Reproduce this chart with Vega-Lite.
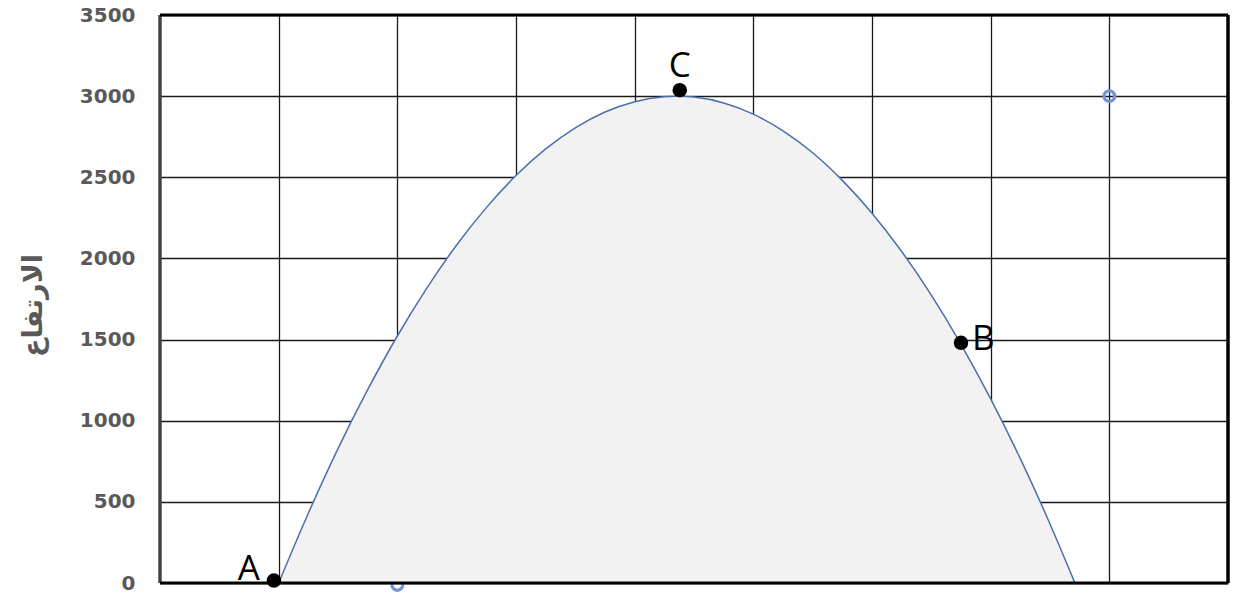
{
  "$schema": "https://vega.github.io/schema/vega-lite/v6.json",
  "width": 1068,
  "height": 568,
  "autosize": {"type": "none"},
  "padding": {"left": 160, "top": 15, "right": 6, "bottom": 12},
  "background": "white",
  "config": {"view": {"stroke": null}},
  "datasets": {
    "curve": [
      {"x": 1.0, "y": 0}, {"x": 1.25, "y": 430}, {"x": 1.5, "y": 828}, {"x": 1.75, "y": 1191},
      {"x": 2.0, "y": 1522}, {"x": 2.25, "y": 1819}, {"x": 2.5, "y": 2083}, {"x": 2.75, "y": 2313},
      {"x": 3.0, "y": 2511}, {"x": 3.25, "y": 2675}, {"x": 3.5, "y": 2805}, {"x": 3.75, "y": 2902},
      {"x": 4.0, "y": 2966}, {"x": 4.25, "y": 2997}, {"x": 4.355, "y": 3000}, {"x": 4.5, "y": 2994},
      {"x": 4.75, "y": 2958}, {"x": 5.0, "y": 2889}, {"x": 5.25, "y": 2786}, {"x": 5.5, "y": 2651},
      {"x": 5.75, "y": 2481}, {"x": 6.0, "y": 2279}, {"x": 6.25, "y": 2043}, {"x": 6.5, "y": 1774},
      {"x": 6.75, "y": 1471}, {"x": 7.0, "y": 1135}, {"x": 7.25, "y": 766}, {"x": 7.5, "y": 364},
      {"x": 7.71, "y": 0}
    ],
    "points": [
      {"x": 0.96, "y": 15, "label": "A"},
      {"x": 4.38, "y": 3037, "label": "C"},
      {"x": 6.75, "y": 1480, "label": "B"}
    ],
    "hollow": [
      {"x": 8.0, "y": 3000},
      {"x": 2.0, "y": -12}
    ],
    "one": [{}]
  },
  "layer": [
    {
      "data": {"name": "hollow"},
      "mark": {"type": "point", "shape": "circle", "filled": false, "stroke": "#7393d4", "strokeWidth": 3.2, "size": 115, "opacity": 1},
      "encoding": {"x": {"field": "x", "type": "quantitative"}, "y": {"field": "y", "type": "quantitative"}}
    },
    {
      "data": {"name": "curve"},
      "mark": {"type": "area", "color": "#f2f2f2", "fillOpacity": 1, "interpolate": "monotone",
        "line": {"color": "#4a6fae", "strokeWidth": 1.5}},
      "encoding": {
        "x": {"field": "x", "type": "quantitative", "scale": {"domain": [0, 9], "nice": false, "zero": false},
          "axis": {"values": [1, 2, 3, 4, 5, 6, 7, 8], "grid": true, "gridColor": "#1a1a1a", "gridWidth": 1.3, "labels": false, "ticks": false, "domain": false, "title": null}},
        "y": {"field": "y", "type": "quantitative", "scale": {"domain": [0, 3500], "nice": false},
          "axis": {"values": [0, 500, 1000, 1500, 2000, 2500, 3000, 3500], "format": "d", "grid": true, "gridColor": "#1a1a1a", "gridWidth": 1.3, "ticks": false, "domain": false,
            "labelFont": "DejaVu Sans", "labelFontWeight": "bold", "labelFontSize": 20, "labelColor": "#595959", "labelPadding": 25,
            "title": "الارتفاع", "titleFont": "DejaVu Sans", "titleFontSize": 27, "titleFontWeight": "bold", "titleColor": "#595959",
            "titleAngle": 270, "titleX": -127, "titleY": 290, "titleAlign": "center", "titleBaseline": "middle"}}
      }
    },
    {
      "data": {"name": "one"},
      "mark": {"type": "rule", "color": "#444444", "strokeWidth": 3.5},
      "encoding": {"x": {"datum": 0}}
    },
    {
      "data": {"name": "one"},
      "mark": {"type": "rule", "color": "#000000", "strokeWidth": 3.5},
      "encoding": {"x": {"datum": 9}}
    },
    {
      "data": {"name": "one"},
      "mark": {"type": "rule", "color": "#000000", "strokeWidth": 3},
      "encoding": {"y": {"datum": 3500}}
    },
    {
      "data": {"name": "one"},
      "mark": {"type": "rule", "color": "#000000", "strokeWidth": 3},
      "encoding": {"y": {"datum": 0}}
    },
    {
      "data": {"name": "points"},
      "mark": {"type": "point", "shape": "circle", "filled": true, "color": "#000000", "size": 210, "opacity": 1},
      "encoding": {"x": {"field": "x", "type": "quantitative"}, "y": {"field": "y", "type": "quantitative"}}
    },
    {
      "data": {"name": "points"},
      "transform": [{"filter": "datum.label === 'A'"}],
      "mark": {"type": "text", "font": "Open Sans", "fontSize": 35, "color": "#000000", "dx": -25, "dy": -12, "align": "center", "baseline": "middle"},
      "encoding": {"x": {"field": "x", "type": "quantitative"}, "y": {"field": "y", "type": "quantitative"}, "text": {"field": "label"}}
    },
    {
      "data": {"name": "points"},
      "transform": [{"filter": "datum.label === 'C'"}],
      "mark": {"type": "text", "font": "Open Sans", "fontSize": 35, "color": "#000000", "dx": 0, "dy": -24, "align": "center", "baseline": "middle"},
      "encoding": {"x": {"field": "x", "type": "quantitative"}, "y": {"field": "y", "type": "quantitative"}, "text": {"field": "label"}}
    },
    {
      "data": {"name": "points"},
      "transform": [{"filter": "datum.label === 'B'"}],
      "mark": {"type": "text", "font": "Open Sans", "fontSize": 35, "color": "#000000", "dx": 11, "dy": -4, "align": "left", "baseline": "middle"},
      "encoding": {"x": {"field": "x", "type": "quantitative"}, "y": {"field": "y", "type": "quantitative"}, "text": {"field": "label"}}
    }
  ]
}
